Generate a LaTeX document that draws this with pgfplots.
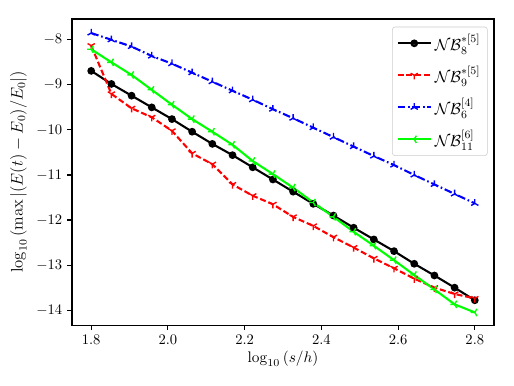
\RequirePackage{fix-cm}
\documentclass[border=0pt]{standalone}
\usepackage{pgfplots}
\usepackage{pgfplotstable}
\pgfplotsset{compat=1.18}
\usetikzlibrary{plotmarks}

% matplotlib-like tri markers
\pgfdeclareplotmark{triup}{%
  \pgfpathmoveto{\pgfpointorigin}\pgfpathlineto{\pgfpointpolar{90}{\pgfplotmarksize}}%
  \pgfpathmoveto{\pgfpointorigin}\pgfpathlineto{\pgfpointpolar{210}{\pgfplotmarksize}}%
  \pgfpathmoveto{\pgfpointorigin}\pgfpathlineto{\pgfpointpolar{330}{\pgfplotmarksize}}%
  \pgfusepathqstroke}
\pgfdeclareplotmark{tridown}{%
  \pgfpathmoveto{\pgfpointorigin}\pgfpathlineto{\pgfpointpolar{270}{\pgfplotmarksize}}%
  \pgfpathmoveto{\pgfpointorigin}\pgfpathlineto{\pgfpointpolar{30}{\pgfplotmarksize}}%
  \pgfpathmoveto{\pgfpointorigin}\pgfpathlineto{\pgfpointpolar{150}{\pgfplotmarksize}}%
  \pgfusepathqstroke}
\pgfdeclareplotmark{trileft}{%
  \pgfpathmoveto{\pgfpointorigin}\pgfpathlineto{\pgfpointpolar{180}{\pgfplotmarksize}}%
  \pgfpathmoveto{\pgfpointorigin}\pgfpathlineto{\pgfpointpolar{60}{\pgfplotmarksize}}%
  \pgfpathmoveto{\pgfpointorigin}\pgfpathlineto{\pgfpointpolar{300}{\pgfplotmarksize}}%
  \pgfusepathqstroke}

% x = log10(s/h), columns: NB8*[5], NB9*[5], NB6[4], NB11[6]
\pgfplotstableread{
x        a       b       c       d
1.80000  -8.69   -8.13   -7.85   -8.21
1.85263  -8.98   -9.20   -8.00   -8.50
1.90526  -9.24   -9.52   -8.15   -8.78
1.95789  -9.50   -9.72   -8.36   -9.11
2.01053  -9.76   -10.02  -8.53   -9.44
2.06316  -10.04  -10.52  -8.73   -9.76
2.11579  -10.31  -10.76  -8.93   -10.04
2.16842  -10.56  -11.21  -9.13   -10.33
2.22105  -10.83  -11.46  -9.33   -10.69
2.27368  -11.10  -11.65  -9.54   -10.98
2.32632  -11.37  -11.93  -9.74   -11.28
2.37895  -11.64  -12.13  -9.95   -11.61
2.43158  -11.90  -12.38  -10.16  -11.93
2.48421  -12.17  -12.61  -10.37  -12.26
2.53684  -12.43  -12.85  -10.58  -12.57
2.58947  -12.69  -13.07  -10.78  -12.89
2.64211  -12.97  -13.30  -11.00  -13.22
2.69474  -13.23  -13.50  -11.21  -13.54
2.74737  -13.50  -13.64  -11.42  -13.87
2.80000  -13.78  -13.74  -11.63  -14.05
}\errdata

\begin{document}
\begin{tikzpicture}
\begin{axis}[
    scale only axis,
    width=303.5pt, height=220.1pt,
    xmin=1.75, xmax=2.85,
    ymin=-14.33, ymax=-7.54,
    xtick={1.8,2.0,2.2,2.4,2.6,2.8},
    ytick={-14,-13,-12,-11,-10,-9,-8},
    tick label style={font=\fontsize{10.5}{12}\selectfont},
    x tick label style={/pgf/number format/.cd, fixed, fixed zerofill, precision=1},
    tick align=outside,
    xtick pos=bottom, ytick pos=left,
    major tick length=3.5pt,
    axis line style={line width=0.8pt},
    every tick/.style={black, line width=0.8pt},
    xlabel={$\log_{10}\left(s/h\right)$},
    ylabel={$\log_{10}\left(\max\left|(E(t)-E_0)/E_0\right|\right)$},
    x label style={font=\fontsize{11}{13}\selectfont, yshift=2pt},
    y label style={font=\fontsize{12}{14}\selectfont},
    legend style={at={(0.985,0.975)}, anchor=north east,
        draw=black!20, rounded corners=2pt, fill=white, fill opacity=0.8,
        text opacity=1, row sep=5.5pt, inner sep=3pt,
        font=\fontsize{11.5}{13}\selectfont},
    legend cell align=left,
    legend image code/.code={\draw[mark repeat=2,mark phase=2,#1]
        plot coordinates {(0pt,0pt) (12pt,0pt) (24pt,0pt)};},
]
\addplot[black, line width=1.5pt, mark=*, mark size=2pt, mark options={solid}]
    table[x=x, y=a] {\errdata};
\addplot[red, line width=1.5pt, dash pattern=on 4.3pt off 2pt,
    mark=tridown, mark size=3pt, mark options={solid, line width=1pt}]
    table[x=x, y=b] {\errdata};
\addplot[blue, line width=1.5pt, dash pattern=on 5.5pt off 2pt on 1.2pt off 2pt,
    mark=triup, mark size=3pt, mark options={solid, line width=1pt}]
    table[x=x, y=c] {\errdata};
\addplot[green, line width=1.5pt,
    mark=trileft, mark size=3pt, mark options={solid, line width=1pt}]
    table[x=x, y=d] {\errdata};
\legend{$\mathcal{NB}_8^{*[5]}$, $\mathcal{NB}_9^{*[5]}$, $\mathcal{NB}_6^{[4]}$, $\mathcal{NB}_{11}^{[6]}$}
\end{axis}
\path ([xshift=-51.8pt,yshift=-43.2pt]current axis.south west)
    rectangle ([xshift=14.4pt,yshift=13.7pt]current axis.north east);
\end{tikzpicture}
\end{document}
